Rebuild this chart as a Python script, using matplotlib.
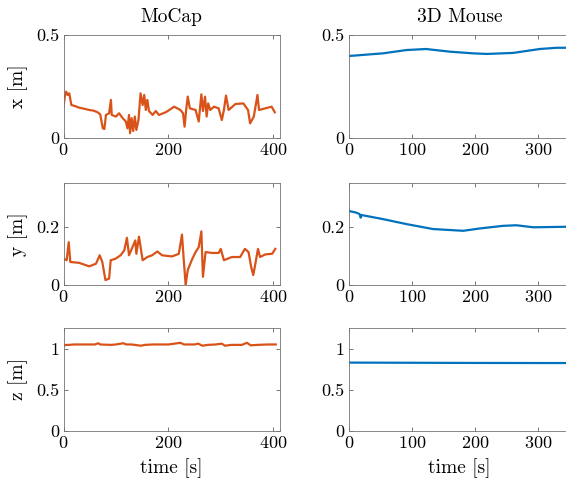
import matplotlib
matplotlib.use("Agg")
import matplotlib.pyplot as plt

# MATLAB-like look with Computer Modern
plt.rcParams['font.family'] = 'serif'
plt.rcParams['font.serif'] = ['cmr10']
plt.rcParams['mathtext.fontset'] = 'cm'
plt.rcParams['axes.unicode_minus'] = False
plt.rcParams['axes.formatter.use_mathtext'] = True

mocap_color = (0.85, 0.325, 0.098)
mouse_color = (0.0, 0.447, 0.741)

# ---- MoCap data ----
mocap_x_t = [0, 2.5, 5, 8, 11, 15, 22, 30, 38, 49, 57, 65, 70, 75, 78, 81, 87, 90.5, 92,
             100, 106, 113, 119, 122, 125, 127, 130, 133, 136, 139, 143, 147, 151, 154,
             157, 160, 163, 170, 176, 182, 195, 203, 211, 223, 228, 231, 234, 237, 241,
             252, 258, 263, 266, 270, 273, 276, 280, 287, 296, 302, 306, 310, 315, 328,
             343, 352, 356, 363, 370, 373, 385, 397, 403]
mocap_x = [0.152, 0.201, 0.225, 0.209, 0.217, 0.160, 0.155, 0.147, 0.143, 0.136, 0.133,
           0.125, 0.115, 0.047, 0.044, 0.112, 0.120, 0.185, 0.112, 0.104, 0.120, 0.096,
           0.080, 0.047, 0.112, 0.023, 0.096, 0.034, 0.104, 0.039, 0.087, 0.217, 0.160,
           0.209, 0.136, 0.185, 0.131, 0.112, 0.131, 0.112, 0.125, 0.138, 0.152, 0.136,
           0.120, 0.055, 0.136, 0.201, 0.144, 0.136, 0.080, 0.212, 0.131, 0.201, 0.104,
           0.168, 0.136, 0.152, 0.144, 0.087, 0.136, 0.206, 0.136, 0.165, 0.168, 0.136,
           0.071, 0.104, 0.209, 0.136, 0.144, 0.152, 0.125]

mocap_y_t = [0, 6, 10, 13, 30, 49, 62, 69, 74, 80, 87, 90, 99, 109, 116, 121, 125, 137,
             139, 144, 151, 160, 169, 179, 188, 207, 220, 226, 229, 233, 237, 245, 252,
             258, 263, 266, 271, 283, 296, 300, 306, 321, 337, 346, 353, 358, 362, 366,
             371, 375, 385, 398, 404]
mocap_y = [0.090, 0.085, 0.147, 0.079, 0.076, 0.064, 0.073, 0.102, 0.079, 0.017, 0.022,
           0.085, 0.090, 0.102, 0.119, 0.162, 0.102, 0.153, 0.107, 0.166, 0.085, 0.096,
           0.102, 0.115, 0.102, 0.098, 0.107, 0.173, 0.096, 0.000, 0.051, 0.087, 0.113,
           0.130, 0.184, 0.028, 0.113, 0.110, 0.110, 0.124, 0.085, 0.096, 0.096, 0.124,
           0.113, 0.062, 0.034, 0.073, 0.124, 0.096, 0.105, 0.107, 0.124]

mocap_z_t = [0, 5, 10, 20, 40, 60, 66, 70, 90, 100, 114, 120, 130, 148, 155, 170, 200,
             223, 230, 250, 257, 265, 275, 290, 302, 308, 320, 340, 350, 357, 370, 390, 405]
mocap_z = [1.035, 1.045, 1.045, 1.05, 1.05, 1.05, 1.065, 1.05, 1.045, 1.05, 1.065, 1.05,
           1.05, 1.035, 1.045, 1.05, 1.05, 1.07, 1.05, 1.05, 1.06, 1.035, 1.045, 1.05,
           1.06, 1.035, 1.045, 1.045, 1.07, 1.04, 1.045, 1.05, 1.05]

# ---- 3D Mouse data ----
mouse_x_t = [0, 54, 91, 122, 160, 196, 218, 260, 302, 329, 350]
mouse_x = [0.398, 0.411, 0.427, 0.432, 0.419, 0.411, 0.408, 0.413, 0.432, 0.438, 0.438]

mouse_y_t = [0, 12, 17, 18.5, 20, 54, 91, 133, 181, 207, 244, 265, 292, 350]
mouse_y = [0.254, 0.248, 0.243, 0.231, 0.240, 0.226, 0.209, 0.192, 0.186, 0.194, 0.203,
           0.205, 0.198, 0.200]

mouse_z_t = [0, 100, 200, 300, 350]
mouse_z = [0.83, 0.828, 0.826, 0.825, 0.825]

fig = plt.figure(figsize=(5.66, 4.87), dpi=100)

W, H = 566.0, 487.0
rows = [(35, 138), (183, 285), (328, 431)]
cols = [(63.5, 280, 413), (349, 570, 350)]

ylims = [0.5, 0.35, 1.25]
yticks = [[0, 0.5], [0, 0.2], [0, 0.5, 1]]
ylabels = ['x [m]', 'y [m]', 'z [m]']
xticks = [[0, 200, 400], [0, 100, 200, 300]]

series = [
    [(mocap_x_t, mocap_x), (mocap_y_t, mocap_y), (mocap_z_t, mocap_z)],
    [(mouse_x_t, mouse_x), (mouse_y_t, mouse_y), (mouse_z_t, mouse_z)],
]
colors = [mocap_color, mouse_color]
titles = ['MoCap', '3D Mouse']

for c, (x0, x1, xmax) in enumerate(cols):
    for r, (top, bot) in enumerate(rows):
        ax = fig.add_axes([x0 / W, 1 - bot / H, (x1 - x0) / W, (bot - top) / H])
        t, v = series[c][r]
        ax.plot(t, v, color=colors[c], lw=1.6)
        ax.set_xlim(0, xmax)
        ax.set_ylim(0, ylims[r])
        ax.set_yticks(yticks[r])
        ax.set_yticklabels([('%g' % y) for y in yticks[r]])
        ax.set_xticks(xticks[c])
        ax.tick_params(direction='in', top=True, right=True, length=3, width=0.5,
                       labelsize=13, color='0.25', pad=3)
        for s in ax.spines.values():
            s.set_color('0.45')
            s.set_linewidth(0.6)
        if c == 0:
            ax.set_ylabel(ylabels[r], fontsize=14, labelpad=6)
        if r == 0:
            ax.set_title(titles[c], fontsize=14, pad=9)
        if r == 2:
            ax.set_xlabel('time [s]', fontsize=14, labelpad=5)

fig.savefig('out.png', dpi=100)
